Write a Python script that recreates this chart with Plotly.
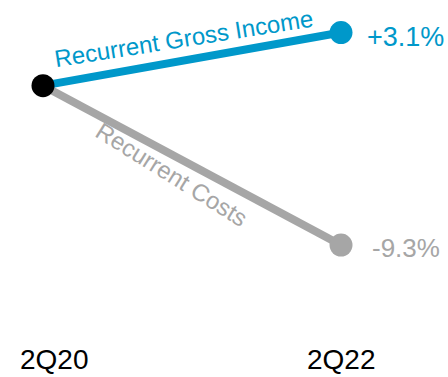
import plotly.graph_objects as go

periods = ["2Q20", "2Q22"]
x_idx = [0, 1]
base_value = 100.0
income_values = [100.0, 103.1]
cost_values = [100.0, 90.7]
income_label = "Recurrent Gross Income"
cost_label = "Recurrent Costs"
income_change = "+3.1%"
cost_change = "-9.3%"

BLUE = "#0098CA"
GRAY = "#A6A6A6"
FONT = "Arial, Liberation Sans, sans-serif"

fig = go.Figure()
for vals, col in [(cost_values, GRAY), (income_values, BLUE)]:
    fig.add_trace(go.Scatter(x=x_idx, y=vals, mode="lines",
                             line=dict(color=col, width=8), hoverinfo="skip"))
for vals, col in [(cost_values, GRAY), (income_values, BLUE)]:
    fig.add_trace(go.Scatter(x=[x_idx[1]], y=[vals[1]], mode="markers", opacity=1,
                             marker=dict(color=col, size=23, opacity=1,
                                         line=dict(width=0)), hoverinfo="skip"))
fig.add_trace(go.Scatter(x=[x_idx[0]], y=[base_value], mode="markers",
                         marker=dict(color="black", size=23, line=dict(width=0)),
                         hoverinfo="skip"))

def lerp(a, b, t):
    return a + (b - a) * t

annotations = [
    dict(x=x_idx[1], y=income_values[1], text=income_change, showarrow=False,
         xanchor="left", yanchor="middle", xshift=24, yshift=-4,
         font=dict(family=FONT, size=27, color=BLUE)),
    dict(x=x_idx[1], y=cost_values[1], text=cost_change, showarrow=False,
         xanchor="left", yanchor="middle", xshift=29, yshift=-3,
         font=dict(family=FONT, size=26, color=GRAY)),
    dict(x=0.47, y=lerp(income_values[0], income_values[1], 0.47), text=income_label,
         showarrow=False, xanchor="center", yanchor="middle", textangle=-9,
         yshift=22, font=dict(family=FONT, size=24, color=BLUE)),
    dict(x=0.426, y=lerp(cost_values[0], cost_values[1], 0.426), text=cost_label,
         showarrow=False, xanchor="center", yanchor="middle", textangle=32,
         xshift=2, yshift=-21, font=dict(family=FONT, size=24, color=GRAY)),
]
for xi, p, xs in zip(x_idx, periods, [11, 0]):
    annotations.append(dict(x=xi, y=0, yref="paper", text=p, showarrow=False,
                            xanchor="center", yanchor="bottom", xshift=xs,
                            borderpad=0, yshift=1,
                            font=dict(family=FONT, size=28, color="black")))

fig.update_layout(
    width=448, height=377,
    margin=dict(l=0, r=0, t=0, b=0),
    paper_bgcolor="white", plot_bgcolor="white",
    showlegend=False,
    xaxis=dict(range=[-0.1443, 1.359], visible=False, fixedrange=True),
    yaxis=dict(range=[83, 105], visible=False, fixedrange=True),
    annotations=annotations,
)
fig.write_html("out.html", config={"displayModeBar": False})
